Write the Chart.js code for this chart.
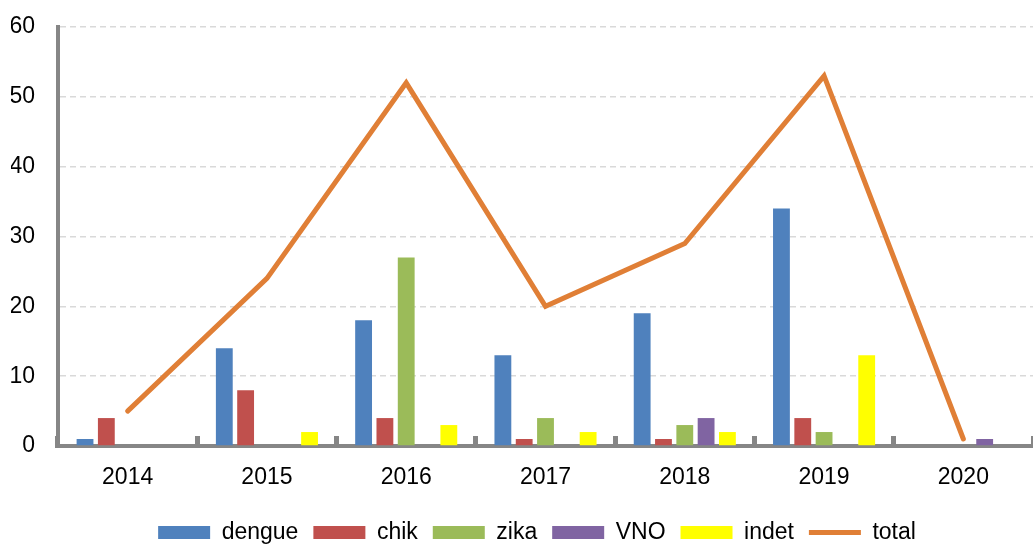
<!DOCTYPE html>
<html>
<head>
<meta charset="utf-8">
<script src="https://cdn.jsdelivr.net/npm/chart.js@4/dist/chart.umd.min.js"></script>
<style>
  html, body { margin: 0; padding: 0; background: #fff; overflow: hidden; }
  #wrap { width: 1033px; height: 554px; position: relative; }
</style>
</head>
<body>
<div id="wrap"><canvas id="chart"></canvas></div>
<script>
// data
const years = ['2014', '2015', '2016', '2017', '2018', '2019', '2020'];
const dengue = [1, 14, 18, 13, 19, 34, 0];
const chik = [4, 8, 4, 1, 1, 4, 0];
const zika = [0, 0, 27, 4, 3, 2, 0];
const vno = [0, 0, 0, 0, 4, 0, 1];
const indet = [0, 2, 3, 2, 2, 13, 0];
const total = [5, 24, 52, 20, 29, 53, 1];

Chart.defaults.font.family = "'Liberation Sans', Arial, sans-serif";
Chart.defaults.font.size = 23;
Chart.defaults.color = '#000';

function barSet(label, data, color) {
  return {
    type: 'bar',
    label: label,
    data: data,
    backgroundColor: color,
    borderWidth: 0,
    pointStyle: 'rect',
    categoryPercentage: 0.765,
    barPercentage: 0.79,
    order: 1
  };
}

// legend sits a bit right of centre in the original
const legendShift = {
  id: 'legendShift',
  afterLayout(chart) {
    chart.legend.left += 30;
  }
};

new Chart('chart', {
  data: {
    labels: years,
    datasets: [
      barSet('dengue', dengue, '#4F81BD'),
      barSet('chik', chik, '#C0504D'),
      barSet('zika', zika, '#9BBB59'),
      barSet('VNO', vno, '#8064A2'),
      barSet('indet', indet, '#FFFF00'),
      {
        type: 'line',
        label: 'total',
        data: total,
        borderColor: '#E07F36',
        borderWidth: 5,
        borderCapStyle: 'round',
        tension: 0,
        pointRadius: 0,
        pointHoverRadius: 0,
        pointStyle: 'line',
        pointBorderColor: '#E07F36',
        pointBorderWidth: 5,
        order: 0
      }
    ]
  },
  options: {
    responsive: true,
    maintainAspectRatio: false,
    animation: false,
    layout: {
      padding: { left: 11, top: 27, right: 0, bottom: 0 }
    },
    plugins: {
      legend: {
        position: 'bottom',
        labels: {
          usePointStyle: true,
          pointStyleWidth: 52,
          boxHeight: 13,
          padding: 15,
          sort: (a, b) => a.datasetIndex - b.datasetIndex
        }
      },
      tooltip: { enabled: false }
    },
    scales: {
      x: {
        offset: true,
        grid: {
          offset: true,
          drawOnChartArea: false,
          drawTicks: true,
          tickLength: -10,
          color: '#868686',
          lineWidth: 5
        },
        border: { color: '#868686', width: 4 },
        ticks: { padding: 28 },
        afterFit(scale) {
          scale.height = 60;
          scale.paddingLeft = 0;
          scale.paddingRight = 0;
        }
      },
      y: {
        min: 0,
        max: 60,
        ticks: { stepSize: 10, padding: 23 },
        grid: { color: '#D9D9D9', lineWidth: 1.5, drawTicks: false },
        border: { color: '#868686', width: 4, dash: [6, 4] },
        afterFit(scale) {
          scale.width = 47;
          scale.paddingTop = 0;
          scale.paddingBottom = 0;
        }
      }
    }
  },
  plugins: [legendShift]
});
</script>
</body>
</html>
